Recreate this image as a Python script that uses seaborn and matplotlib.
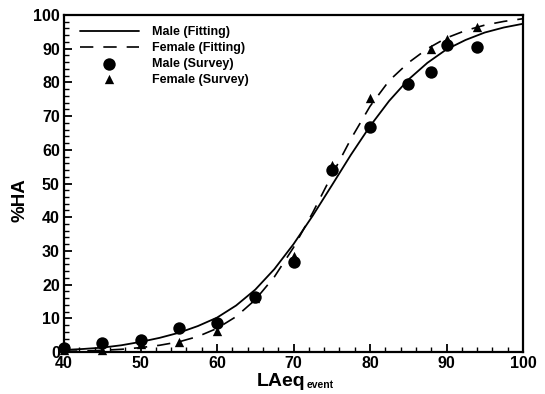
import numpy as np
import pandas as pd
import seaborn as sns
import matplotlib
matplotlib.use("Agg")
import matplotlib.pyplot as plt
from matplotlib.ticker import MultipleLocator

# fitted curves, every 2.5 dB
fit_x = [40, 42.5, 45, 47.5, 50, 52.5, 55, 57.5, 60, 62.5, 65, 67.5, 70,
         72.5, 75, 77.5, 80, 82.5, 85, 87.5, 90, 92.5, 95, 97.5, 100]
male_fit = [0.6, 0.9, 1.3, 2.0, 3.0, 4.2, 5.7, 7.7, 10.2, 13.8, 18.5, 24.6, 32.0,
            40.4, 49.4, 58.5, 67.0, 74.5, 80.8, 85.8, 89.8, 92.6, 94.8, 96.3, 97.4]
female_fit = [0.2, 0.3, 0.5, 0.8, 1.3, 2.0, 3.0, 4.6, 7.0, 10.5, 15.5, 22.3, 31.0,
              41.3, 52.4, 63.2, 72.9, 80.5, 85.8, 90.0, 93.2, 95.4, 97.0, 98.1, 98.9]

# survey points
male_x = [40, 45, 50, 55, 60, 65, 70, 75, 80, 85, 88, 90, 94]
male_y = [1.2, 2.7, 3.6, 7.1, 8.6, 16.4, 26.6, 54.0, 66.8, 79.4, 83.2, 91.1, 90.4]
female_x = [40, 45, 50, 55, 60, 65, 70, 75, 80, 88, 90, 94]
female_y = [0.5, 0.5, 2.5, 3.1, 6.3, 16.0, 28.5, 55.5, 75.3, 89.8, 93.0, 96.5]

sns.set_style("ticks")
plt.rcParams["font.family"] = ["Liberation Sans", "DejaVu Sans"]
plt.rcParams["text.color"] = "black"
plt.rcParams["axes.labelcolor"] = "black"

fit = pd.DataFrame({"x": fit_x, "male": male_fit, "female": female_fit})
male = pd.DataFrame({"x": male_x, "y": male_y})
female = pd.DataFrame({"x": female_x, "y": female_y})

fig = plt.figure(figsize=(5.45, 3.94), dpi=100)
ax = fig.add_axes([64 / 545, 42 / 394, 459 / 545, 337 / 394])

sns.lineplot(data=fit, x="x", y="male", ax=ax, color="black", lw=1.3,
             label="Male (Fitting)")
sns.lineplot(data=fit, x="x", y="female", ax=ax, color="black", lw=1.2,
             dashes=False, label="Female (Fitting)")
ax.lines[-1].set_dashes((8, 6))
sns.scatterplot(data=male, x="x", y="y", ax=ax, color="black", marker="o",
                s=80, edgecolor="black", linewidth=0, label="Male (Survey)",
                clip_on=False, zorder=3)
sns.scatterplot(data=female, x="x", y="y", ax=ax, color="black", marker="^",
                s=45, edgecolor="black", linewidth=0, label="Female (Survey)",
                clip_on=False, zorder=4)

ax.set_xlim(40, 100)
ax.set_ylim(0, 100)
ax.xaxis.set_major_locator(MultipleLocator(10))
ax.xaxis.set_minor_locator(MultipleLocator(2))
ax.yaxis.set_major_locator(MultipleLocator(10))
ax.yaxis.set_minor_locator(MultipleLocator(2))
ax.tick_params(which="major", direction="in", length=6, width=1.3,
               labelsize=11.5, pad=3, color="black", labelcolor="black")
ax.tick_params(which="minor", direction="in", length=3.5, width=1.0,
               color="black")
for side in ["top", "right", "left", "bottom"]:
    ax.spines[side].set_visible(True)
    ax.spines[side].set_linewidth(1.6)
    ax.spines[side].set_color("black")
for lbl in ax.get_xticklabels() + ax.get_yticklabels():
    lbl.set_fontweight("bold")

# x label: big "LAeq" with a small "event" subscript
ax.set_xlabel("")
main_lbl = fig.text(257 / 545, 1 - 386 / 394, "LAeq", fontsize=14,
                    fontweight="bold", ha="left", va="baseline")
fig.canvas.draw()
bb = main_lbl.get_window_extent()
fig.text(bb.x1 / fig.bbox.width + 0.002, 1 - 388 / 394, "event", fontsize=7.5,
         fontweight="bold", ha="left", va="baseline")

ax.set_ylabel("%HA", fontsize=13.5, fontweight="bold")
ax.yaxis.set_label_coords(-0.078, 0.45)

leg = ax.legend(loc="upper left", bbox_to_anchor=(16 / 459, 0.966),
                frameon=False, borderaxespad=0, borderpad=0,
                handlelength=4.7, handletextpad=1.1, labelspacing=0.3,
                prop={"weight": "bold", "size": 9})

fig.savefig("out.png", dpi=100)
